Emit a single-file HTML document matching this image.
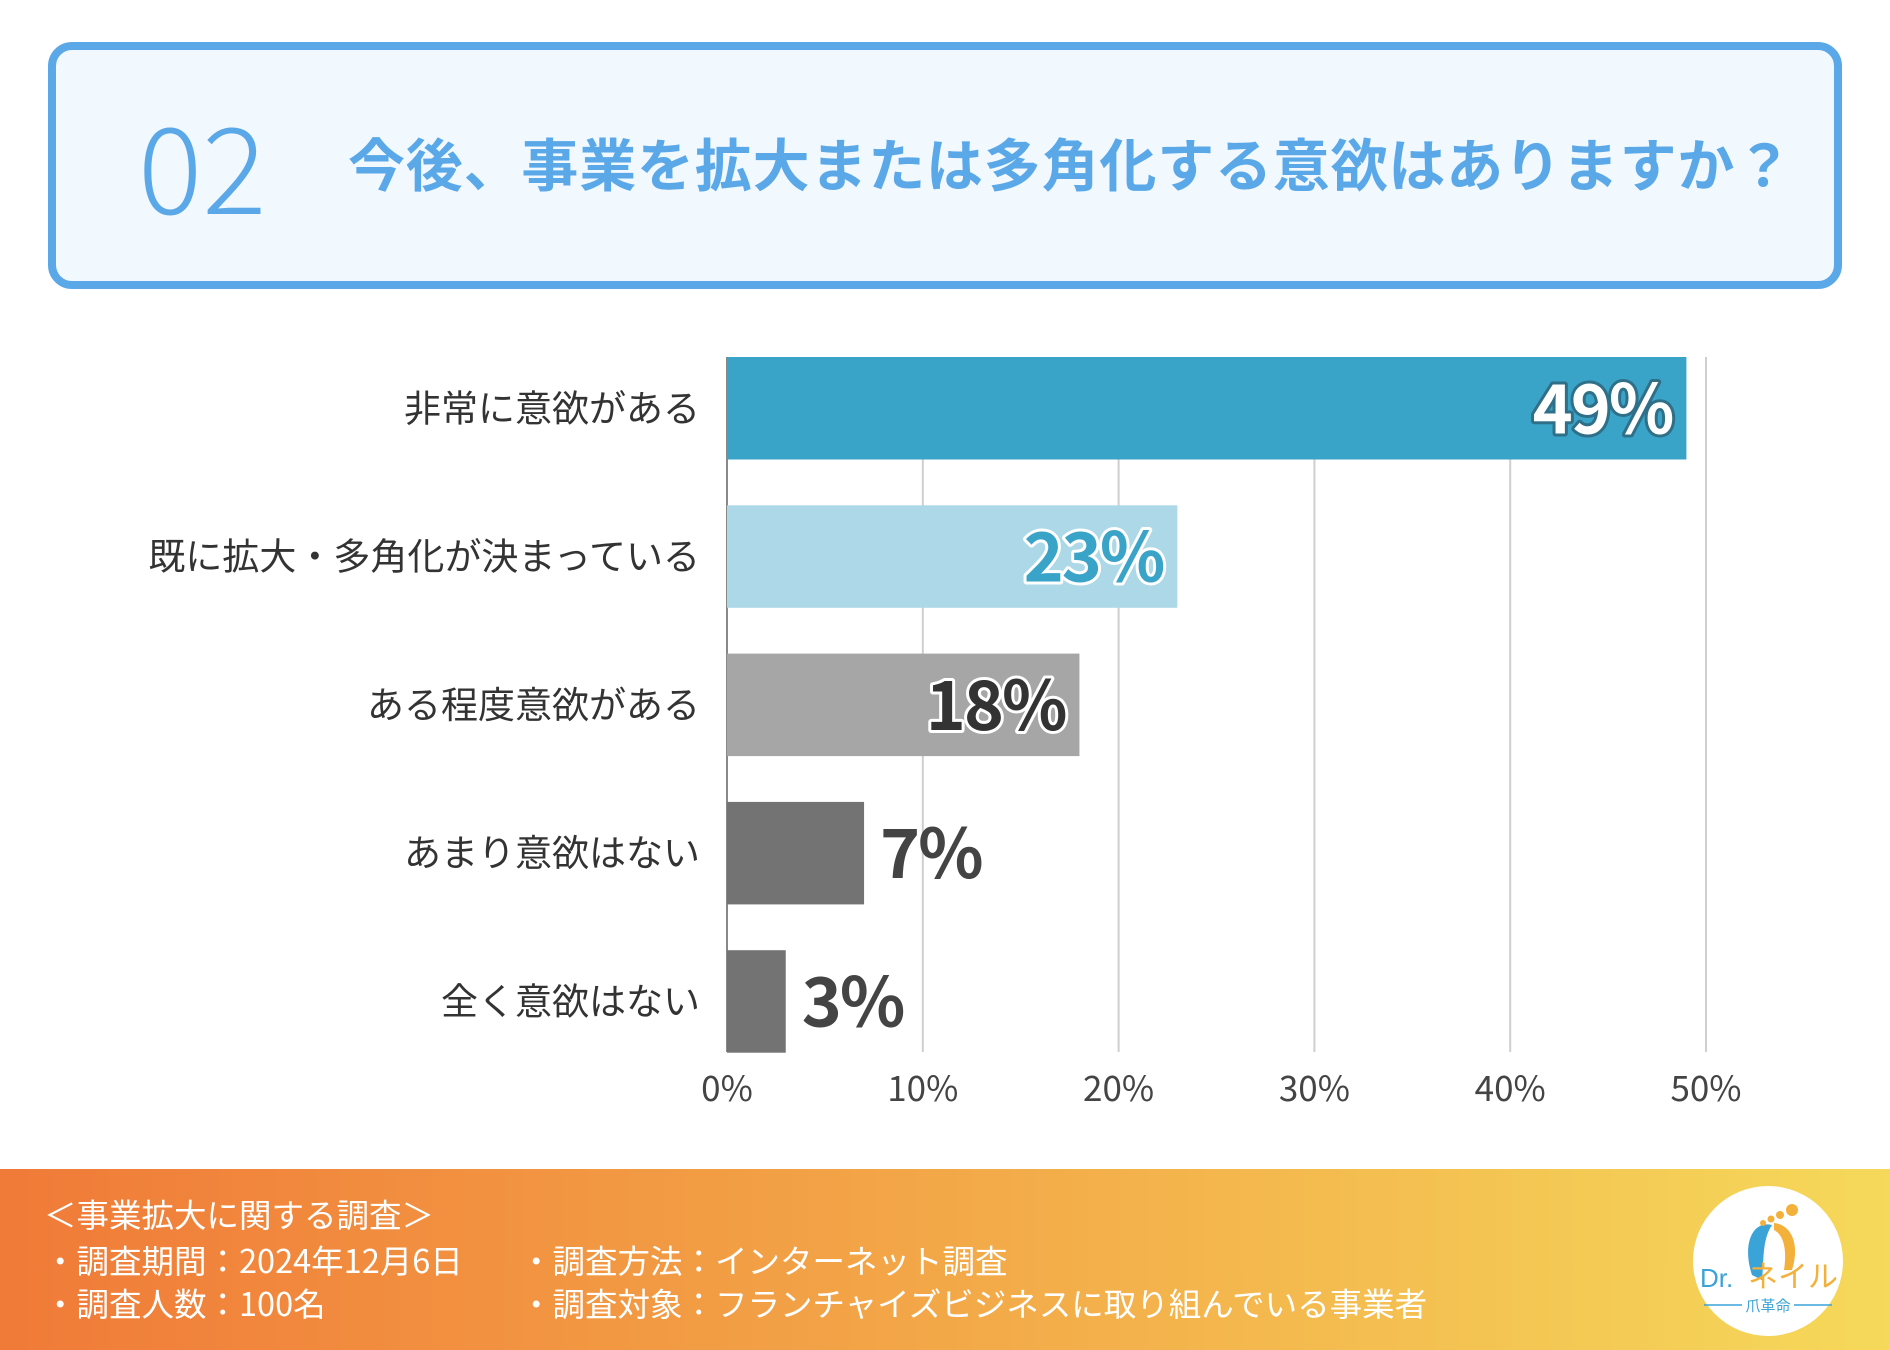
<!DOCTYPE html>
<html><head><meta charset="utf-8">
<style>
body{margin:0;width:1890px;height:1350px;background:#fff;position:relative;overflow:hidden;font-family:"Liberation Sans","Noto Sans CJK JP",sans-serif;}
.hdr{position:absolute;left:48px;top:42px;width:1778px;height:231px;border:8px solid #5aa8e8;border-radius:24px;background:#f1f8fe;}
.num{position:absolute;left:82px;top:52px;font-size:120px;color:#5aa8e8;line-height:1;font-family:"Noto Sans CJK JP",sans-serif;font-weight:300;}
.title{position:absolute;left:292px;top:84px;font-size:57px;color:#5aa8e8;font-weight:bold;line-height:1;letter-spacing:0.8px;font-family:"Noto Sans CJK JP",sans-serif;}
.foot{position:absolute;left:0;top:1169px;width:1890px;height:181px;background:linear-gradient(90deg,#f07a38,#f3a848 50%,#f5d95a);}
.ft{position:absolute;color:#fff;font-size:32.5px;line-height:1;font-family:"Noto Sans CJK JP",sans-serif;white-space:nowrap;}
</style></head><body>
<div class="hdr">
<div class="num">02</div>
<div class="title">今後、事業を拡大または多角化する意欲はありますか？</div>
</div>
<svg id="chart" width="1890" height="1169" style="position:absolute;left:0;top:0"></svg>
<div class="foot">
<div class="ft" style="left:44px;top:29px">＜事業拡大に関する調査＞</div>
<div class="ft" style="left:44px;top:75px">・調査期間：2024年12月6日</div>
<div class="ft" style="left:44px;top:118px">・調査人数：100名</div>
<div class="ft" style="left:520px;top:75px">・調査方法：インターネット調査</div>
<div class="ft" style="left:520px;top:118px">・調査対象：フランチャイズビジネスに取り組んでいる事業者</div>
<svg style="position:absolute;left:1692px;top:16px" width="152" height="152">
<circle cx="76" cy="76" r="75" fill="#fff"/>
<path d="M60 90 C50 60 60 35 80 40 C70 55 72 75 70 95 Z" fill="#3aa3d8"/>
<path d="M82 38 C100 40 108 60 100 85 L92 85 C95 65 92 50 82 45 Z" fill="#f3b03a"/>
<circle cx="100" cy="25" r="6" fill="#f3b03a"/><circle cx="88" cy="30" r="4" fill="#f3b03a"/><circle cx="79" cy="34" r="3.5" fill="#f3b03a"/><circle cx="71" cy="38" r="3" fill="#f3b03a"/>
<text x="8" y="102" font-size="26" fill="#3aa3d8" font-family="Liberation Sans">Dr.</text>
<text x="56" y="102" font-size="30" fill="#f3b03a" font-family="Noto Sans CJK JP">ネイル</text>
<line x1="12" y1="120" x2="50" y2="120" stroke="#3aa3d8" stroke-width="1.5"/><line x1="102" y1="120" x2="140" y2="120" stroke="#3aa3d8" stroke-width="1.5"/>
<text x="76" y="126" font-size="15" fill="#3aa3d8" text-anchor="middle" font-family="Noto Sans CJK JP">爪革命</text>
</svg>
</div>
<script>
const categories=["非常に意欲がある","既に拡大・多角化が決まっている","ある程度意欲がある","あまり意欲はない","全く意欲はない"];
const values=[49,23,18,7,3];
const ticks=[0,10,20,30,40,50];
const tickLabels=["0%","10%","20%","30%","40%","50%"];
const barColors=["#3aa3c8","#add8e8","#a6a6a6","#737373","#737373"];
const NS="http://www.w3.org/2000/svg";
const svg=document.getElementById('chart');
const x0=727,x1=1706,maxV=50,top0=357,step=148.3,bh=102.5,bottom=1052;
const xs=v=>x0+(x1-x0)*v/maxV;
const ys=i=>top0+i*step;
function mk(t,a){const e=document.createElementNS(NS,t);for(const k in a)e.setAttribute(k,a[k]);svg.appendChild(e);return e;}
ticks.forEach((t,i)=>{
 if(i>0){const l=mk('line',{x1:xs(t),x2:xs(t),y1:top0,y2:bottom,stroke:'#cfcfcf','stroke-width':2});
 
 }
 const tx=mk('text',{x:xs(t),y:1101,'font-size':35,fill:'#444','text-anchor':'middle','font-family':'Noto Sans CJK JP,sans-serif'});
 tx.textContent=tickLabels[i];
 
 
});
const ax=mk('line',{x1:x0,x2:x0,y1:top0,y2:bottom,stroke:'#888','stroke-width':2});


const fills=["#fff","#3aa3c8","#333","#444","#444"];
const strokes=["#2f6f88","#fff","#fff","none","none"];
values.forEach((v,i)=>{
 const y=ys(i);
 const r=mk('rect',{x:x0,y:y,width:xs(v)-x0,height:bh,fill:barColors[i]});
 
 
 const c=mk('text',{x:700,y:y+bh/2+13,'font-size':37,fill:'#333','text-anchor':'end','font-family':'Noto Sans CJK JP,sans-serif'});
 c.textContent=categories[i];
 
 
 const inside=v>=15;
 const t=mk('text',{x:inside?xs(v)-14:xs(v)+16,y:y+bh/2+25,'font-size':68,'font-weight':'bold',fill:fills[i],'text-anchor':inside?'end':'start','font-family':'Noto Sans CJK JP,sans-serif','letter-spacing':'-2','paint-order':'stroke',stroke:strokes[i],'stroke-width':inside?6:0,'stroke-linejoin':'round'});
 t.textContent=v+'%';
 
 
});
</script>
</body></html>
